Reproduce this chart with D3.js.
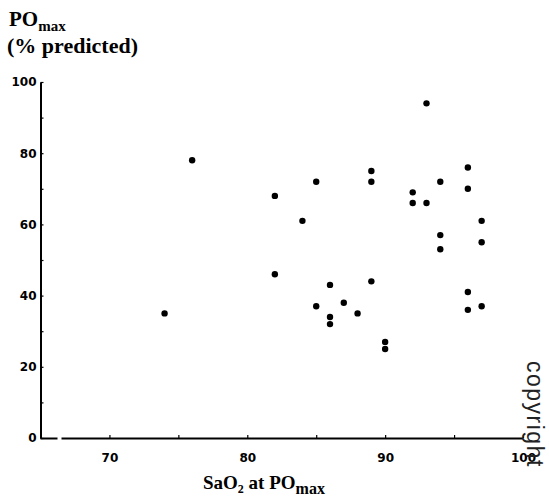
<!DOCTYPE html>
<html>
<head>
<meta charset="utf-8">
<script src="https://cdn.jsdelivr.net/npm/d3@7"></script>
<style>
body { margin: 0; background: #fff; }
svg { display: block; }
.tick text { font-family: "DejaVu Sans", sans-serif; font-weight: bold; font-size: 12px; fill: #000; }
.title { font-family: "Liberation Serif", "Times New Roman", serif; font-weight: bold; fill: #000; }
</style>
</head>
<body>
<div id="chart"></div>
<script>
// SaO2 at POmax (%), one per subject
var sao2 = [74, 76, 82, 82, 84, 85, 85, 86, 86, 86, 87, 88, 89, 89, 89, 90, 90,
            92, 92, 93, 93, 94, 94, 94, 96, 96, 96, 96, 97, 97, 97];
// POmax (% predicted), same order
var poMax = [35, 78, 68, 46, 61, 72, 37, 43, 34, 32, 38, 35, 75, 72, 44, 27, 25,
             69, 66, 66, 94, 72, 57, 53, 76, 70, 41, 36, 61, 55, 37];

var xTicks = [70, 75, 80, 85, 90, 95, 100];
var yTicks = [0, 10, 20, 30, 40, 50, 60, 70, 80, 90, 100];

var width = 549,
    height = 500;

var x = d3.scaleLinear().domain([65, 100]).range([40.5, 523]);
var y = d3.scaleLinear().domain([0, 100]).range([438, 82]);

var svg = d3.select('#chart').append('svg')
    .attr('width', width)
    .attr('height', height);

// y axis, ticks point inwards, only every 20 labelled
var yAxis = svg.append('g')
    .attr('transform', 'translate(' + x(65) + ',0)')
    .call(d3.axisLeft(y)
        .tickValues(yTicks)
        .tickSize(-3)
        .tickSizeOuter(0)
        .tickPadding(4)
        .tickFormat(function(d){ return d % 20 === 0 ? d : ''; }));
yAxis.select('.domain').attr('stroke-width', 2);
yAxis.selectAll('.tick line').attr('stroke-width', 1.2);

// x axis, drawn without domain so the break can be added by hand
var xAxis = svg.append('g')
    .attr('transform', 'translate(0,' + y(0) + ')')
    .call(d3.axisBottom(x)
        .tickValues(xTicks)
        .tickSize(-3)
        .tickPadding(15)
        .tickFormat(function(d){ return d % 10 === 0 ? d : ''; }));
xAxis.select('.domain').remove();
xAxis.selectAll('.tick line').attr('stroke-width', 1.2);

// axis line with a small gap near the origin
var gapFrom = x(65) + 17,
    gapTo = x(65) + 21;
xAxis.selectAll('line.seg')
    .data([[x(65), gapFrom], [gapTo, x(100)]])
    .enter().append('line')
        .attr('class', 'seg')
        .attr('x1', function(d){ return d[0]; })
        .attr('x2', function(d){ return d[1]; })
        .attr('y1', 0.5)
        .attr('y2', 0.5)
        .attr('stroke', '#000')
        .attr('stroke-width', 2);

// points
svg.append('g')
    .selectAll('circle')
    .data(sao2)
    .enter().append('circle')
        .attr('cx', function(d){ return x(d); })
        .attr('cy', function(d, i){ return y(poMax[i]); })
        .attr('r', 3.2)
        .attr('fill', '#000');

// y title
var yTitle = svg.append('text')
    .attr('class', 'title')
    .attr('x', 9)
    .attr('y', 26)
    .style('font-size', '21px');
yTitle.append('tspan').text('PO');
yTitle.append('tspan').attr('dy', 5).style('font-size', '15px').text('max');

svg.append('text')
    .attr('class', 'title')
    .attr('x', 7)
    .attr('y', 53)
    .style('font-size', '22px')
    .text('(% predicted)');

// x title
var xTitle = svg.append('text')
    .attr('class', 'title')
    .attr('x', 203)
    .attr('y', 489)
    .style('font-size', '19px');
xTitle.append('tspan').text('SaO');
xTitle.append('tspan').attr('dy', 4).style('font-size', '12px').text('2');
xTitle.append('tspan').attr('dy', -4).text(' at PO');
xTitle.append('tspan').attr('dy', 5).style('font-size', '16px').text('max');

// scanned watermark on the right edge
svg.append('text')
    .attr('transform', 'translate(527,361) rotate(90)')
    .style('font-family', '"Liberation Sans", Arial, sans-serif')
    .style('font-size', '23px')
    .style('letter-spacing', '1.5px')
    .attr('fill', '#222')
    .text('copyright');
</script>
</body>
</html>
